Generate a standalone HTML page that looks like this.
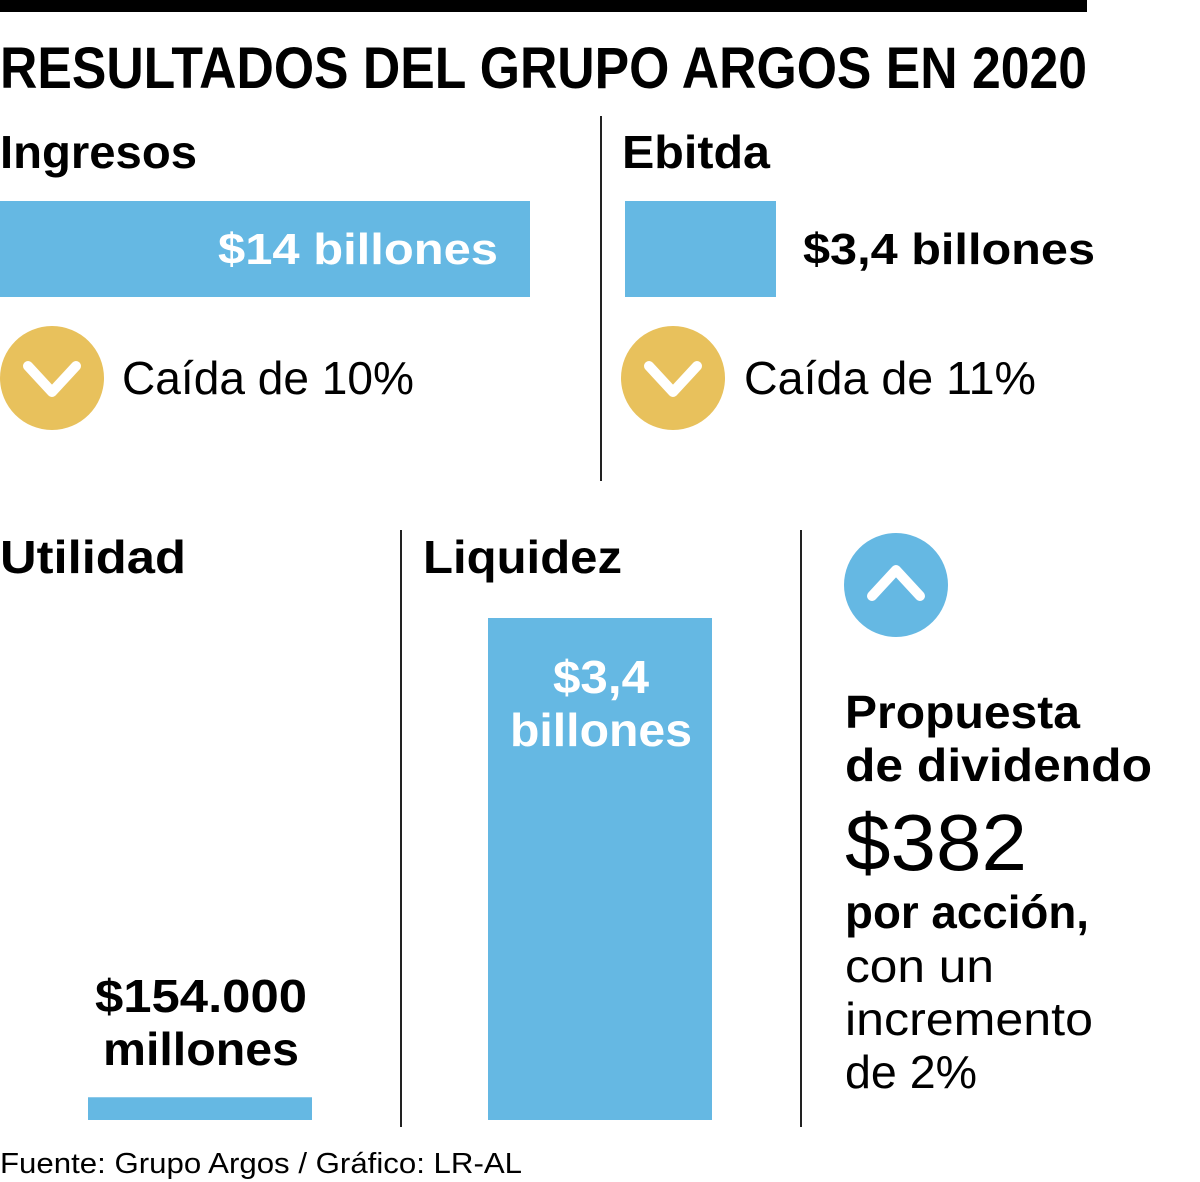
<!DOCTYPE html>
<html><head><meta charset="utf-8">
<style>
html,body{margin:0;padding:0;background:#fff;}
svg{display:block;font-family:"Liberation Sans",sans-serif;}
</style></head>
<body>
<svg id="chart" width="1200" height="1182" viewBox="0 0 1200 1182" xmlns="http://www.w3.org/2000/svg">
<rect x="0" y="0" width="1087" height="12" fill="#000"/>
<text x="0" y="88" font-size="58" font-weight="bold" textLength="1087" lengthAdjust="spacingAndGlyphs">RESULTADOS DEL GRUPO ARGOS EN 2020</text>

<text x="0" y="168" font-size="46" font-weight="bold" textLength="197" lengthAdjust="spacingAndGlyphs">Ingresos</text>
<g id="ingresos-bar-g"></g>
<text x="498" y="264" font-size="44" font-weight="bold" fill="#fff" text-anchor="end" textLength="280" lengthAdjust="spacingAndGlyphs">$14 billones</text>
<circle cx="52" cy="378" r="52" fill="#e8c15c"/>
<polyline points="28,366 52,392 76,366" fill="none" stroke="#fff" stroke-width="10" stroke-linecap="round" stroke-linejoin="round"/>
<text x="122" y="394" font-size="46" textLength="292" lengthAdjust="spacingAndGlyphs">Caída de 10%</text>

<line x1="601" y1="116" x2="601" y2="481" stroke="#222" stroke-width="2"/>

<text x="622" y="168" font-size="46" font-weight="bold" textLength="148" lengthAdjust="spacingAndGlyphs">Ebitda</text>
<g id="ebitda-bar-g"></g>
<text x="803" y="264" font-size="44" font-weight="bold" textLength="292" lengthAdjust="spacingAndGlyphs">$3,4 billones</text>
<circle cx="673" cy="378" r="52" fill="#e8c15c"/>
<polyline points="649,366 673,392 697,366" fill="none" stroke="#fff" stroke-width="10" stroke-linecap="round" stroke-linejoin="round"/>
<text x="744" y="394" font-size="46" textLength="292" lengthAdjust="spacingAndGlyphs">Caída de 11%</text>

<text x="0" y="573" font-size="46" font-weight="bold" textLength="186" lengthAdjust="spacingAndGlyphs">Utilidad</text>
<line x1="401" y1="530" x2="401" y2="1127" stroke="#222" stroke-width="2"/>
<text x="423" y="573" font-size="46" font-weight="bold" textLength="199" lengthAdjust="spacingAndGlyphs">Liquidez</text>
<line x1="801" y1="530" x2="801" y2="1127" stroke="#222" stroke-width="2"/>

<g id="vbars-g"></g>
<text x="201" y="1012" font-size="46" font-weight="bold" text-anchor="middle" textLength="212" lengthAdjust="spacingAndGlyphs">$154.000</text>
<text x="201" y="1065" font-size="46" font-weight="bold" text-anchor="middle" textLength="196" lengthAdjust="spacingAndGlyphs">millones</text>
<text x="601" y="693" font-size="46" font-weight="bold" fill="#fff" text-anchor="middle" textLength="96" lengthAdjust="spacingAndGlyphs">$3,4</text>
<text x="601" y="746" font-size="46" font-weight="bold" fill="#fff" text-anchor="middle" textLength="182" lengthAdjust="spacingAndGlyphs">billones</text>

<circle cx="896" cy="585" r="52" fill="#65b8e3"/>
<polyline points="872,596 896,570 920,596" fill="none" stroke="#fff" stroke-width="10" stroke-linecap="round" stroke-linejoin="round"/>
<text x="845" y="728" font-size="46" font-weight="bold" textLength="235" lengthAdjust="spacingAndGlyphs">Propuesta</text>
<text x="845" y="781" font-size="46" font-weight="bold" textLength="307" lengthAdjust="spacingAndGlyphs">de dividendo</text>
<text x="845" y="870" font-size="80" textLength="182" lengthAdjust="spacingAndGlyphs">$382</text>
<text x="845" y="928" font-size="46" font-weight="bold" textLength="244" lengthAdjust="spacingAndGlyphs" style="font-weight:600">por acción,</text>
<text x="845" y="982" font-size="46" textLength="149" lengthAdjust="spacingAndGlyphs">con un</text>
<text x="845" y="1035" font-size="46" textLength="248" lengthAdjust="spacingAndGlyphs">incremento</text>
<text x="845" y="1088" font-size="46" textLength="132" lengthAdjust="spacingAndGlyphs">de 2%</text>

<text x="0" y="1173" font-size="29" textLength="522" lengthAdjust="spacingAndGlyphs">Fuente: Grupo Argos / Gráfico: LR-AL</text>
</svg>
<script>
// horizontal bars (values in billones)
const hCategories = ["Ingresos", "Ebitda"];
const hValues = [14, 3.4];
// vertical bars (values in miles de millones)
const vCategories = ["Utilidad", "Liquidez"];
const vValues = [154, 3400];

const NS = "http://www.w3.org/2000/svg";
// axis functions (infographic uses non-linear display scales)
function xIngresos(v){ return v * (530 / 14); }
function xEbitda(v){ return v * (151 / 3.4); }
function yScale(v){ return Math.max(22, v * (502 / 3400)); }

const hScales = [xIngresos, xEbitda];
const hX0 = [0, 625];
const hGroups = ["ingresos-bar-g", "ebitda-bar-g"];
hValues.forEach((v, i) => {
  const r = document.createElementNS(NS, "rect");
  
  
  r.setAttribute("x", hX0[i]);
  r.setAttribute("y", 201);
  r.setAttribute("width", hScales[i](v));
  r.setAttribute("height", 96);
  r.setAttribute("fill", "#65b8e3");
  document.getElementById(hGroups[i]).appendChild(r);
});

const vX0 = [88, 488];
const base = 1120;
vValues.forEach((v, i) => {
  const h = yScale(v);
  const r = document.createElementNS(NS, "rect");
  
  
  r.setAttribute("x", vX0[i]);
  r.setAttribute("y", base - h);
  r.setAttribute("width", 224);
  r.setAttribute("height", h);
  r.setAttribute("fill", "#65b8e3");
  document.getElementById("vbars-g").appendChild(r);
});
</script>
</body></html>
